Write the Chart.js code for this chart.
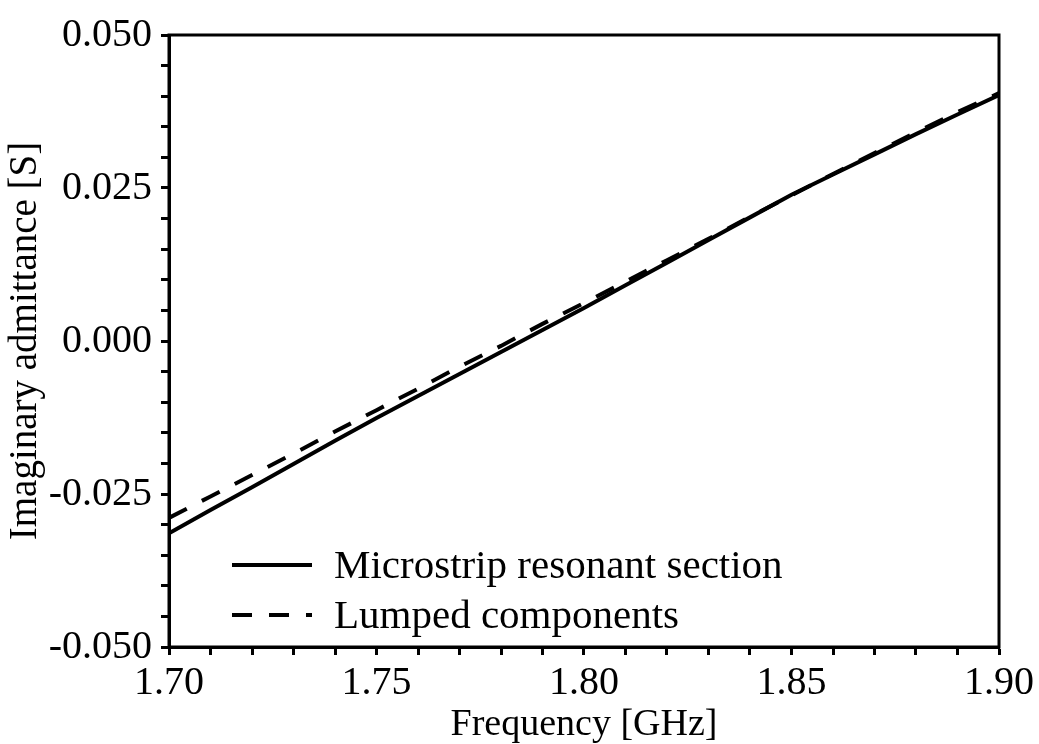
<!DOCTYPE html>
<html>
<head>
<meta charset="utf-8">
<script src="https://cdn.jsdelivr.net/npm/chart.js@4/dist/chart.umd.min.js"></script>
<style>
  html, body { margin: 0; padding: 0; background: #fff; }
  #wrap { width: 1039px; height: 744px; }
</style>
</head>
<body>
<div id="wrap"><canvas id="myChart" width="1039" height="744"></canvas></div>
<script>
// frequency points [GHz]
const freq = [1.70, 1.71, 1.72, 1.73, 1.74, 1.75, 1.76, 1.77, 1.78, 1.79, 1.80,
  1.81, 1.82, 1.83, 1.84, 1.85, 1.86, 1.87, 1.88, 1.89, 1.90];
// imaginary admittance [S]
const microstrip = [-0.0314, -0.0276, -0.0239, -0.0201, -0.0163, -0.0126, -0.0090, -0.0054, -0.0018, 0.0018, 0.0054,
  0.0091, 0.0128, 0.0165, 0.0202, 0.0239, 0.0272, 0.0305, 0.0338, 0.0370, 0.0402];
const lumped = [-0.0289, -0.0254, -0.0219, -0.0184, -0.0148, -0.0113, -0.0078, -0.0042, -0.0008, 0.0028, 0.0062,
  0.0097, 0.0132, 0.0167, 0.0203, 0.0238, 0.0273, 0.0307, 0.0341, 0.0374, 0.0405];
const seriesNames = ['Microstrip resonant section', 'Lumped components'];

const serif = 'Liberation Serif';

function toPoints(ys) {
  return freq.map((f, i) => ({ x: f, y: ys[i] }));
}

// box around the plot + legend inside the plot
const frame = {
  id: 'frame',
  afterDatasetsDraw(chart) {
    const a = chart.chartArea;
    const ctx = chart.ctx;
    ctx.save();
    ctx.strokeStyle = '#000';
    ctx.lineWidth = 3;
    ctx.strokeRect(a.left, a.top, a.right - a.left, a.bottom - a.top);
    // legend
    ctx.font = '41px "' + serif + '"';
    ctx.textBaseline = 'middle';
    ctx.fillStyle = '#000';
    chart.data.datasets.forEach((ds, i) => {
      const y = a.top + 530 + i * 50;
      ctx.beginPath();
      ctx.lineWidth = ds.borderWidth;
      ctx.setLineDash(ds.borderDash || []);
      ctx.moveTo(a.left + 63, y);
      ctx.lineTo(a.left + 143, y);
      ctx.stroke();
      ctx.setLineDash([]);
      ctx.fillText(ds.label, a.left + 165, y + 2);
    });
    ctx.restore();
  }
};

new Chart(document.getElementById('myChart').getContext('2d'), {
  type: 'line',
  data: {
    datasets: [{
      label: seriesNames[0],
      data: toPoints(microstrip),
      borderColor: '#000',
      borderWidth: 4,
      pointRadius: 0,
      fill: false
    }, {
      label: seriesNames[1],
      data: toPoints(lumped),
      borderColor: '#000',
      borderWidth: 4,
      borderDash: [20, 17],
      pointRadius: 0,
      fill: false
    }]
  },
  options: {
    responsive: false,
    animation: false,
    layout: { padding: { left: 0, right: 40, top: 35, bottom: 0 } },
    plugins: { legend: { display: false }, tooltip: { enabled: false } },
    scales: {
      x: {
        type: 'linear',
        min: 1.70,
        max: 1.90,
        afterFit: (s) => { s.height = 97; },
        ticks: {
          stepSize: 0.01,
          autoSkip: false,
          maxRotation: 0,
          padding: 4,
          color: '#000',
          font: { family: serif, size: 40 },
          callback: (v) => (Math.round(v * 100) % 5 === 0 ? v.toFixed(2) : '')
        },
        grid: { drawOnChartArea: false, tickLength: 8, tickWidth: 3, tickColor: '#000' },
        border: { color: '#000', width: 3 },
        title: {
          display: true,
          text: 'Frequency [GHz]',
          color: '#000',
          padding: { top: 0, bottom: -4 },
          font: { family: serif, size: 38 }
        }
      },
      y: {
        min: -0.05,
        max: 0.05,
        afterFit: (s) => { s.width = 169; },
        ticks: {
          stepSize: 0.005,
          autoSkip: false,
          padding: 9,
          color: '#000',
          font: { family: serif, size: 40 },
          callback: (v) => (Math.round(v * 1000) % 25 === 0 ? v.toFixed(3) : '')
        },
        grid: { drawOnChartArea: false, tickLength: 8, tickWidth: 3, tickColor: '#000' },
        border: { color: '#000', width: 3 },
        title: {
          display: true,
          text: 'Imaginary admittance [S]',
          color: '#000',
          padding: { top: 2, bottom: 0 },
          font: { family: serif, size: 39 }
        }
      }
    }
  },
  plugins: [frame]
});
</script>
</body>
</html>
